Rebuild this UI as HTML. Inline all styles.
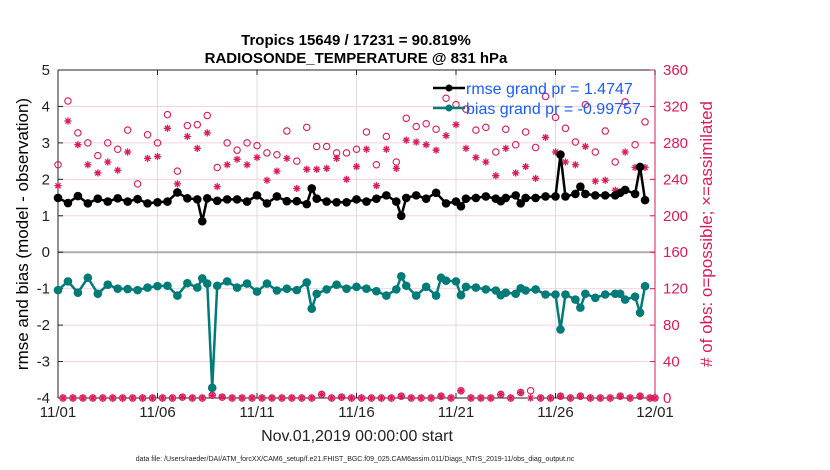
<!DOCTYPE html>
<html><head><meta charset="utf-8"><style>
body{margin:0;background:#fff;}
svg{display:block;font-family:"Liberation Sans",sans-serif;}
</style></head><body>
<svg id="chart" width="830" height="470" viewBox="0 0 830 470">
<g id="grid"></g>
<g id="axes"></g>
<g id="marks"></g>
<text x="356" y="45" text-anchor="middle" font-size="15" font-weight="bold">Tropics 15649 / 17231 = 90.819%</text>
<text x="356" y="63" text-anchor="middle" font-size="15" font-weight="bold">RADIOSONDE_TEMPERATURE @ 831 hPa</text>
<text transform="translate(28,234) rotate(-90)" text-anchor="middle" font-size="17">rmse and bias (model - observation)</text>
<text transform="translate(712,234) rotate(-90)" text-anchor="middle" font-size="17" fill="#dc1a5a"># of obs: o=possible; ×=assimilated</text>
<text x="357" y="441" text-anchor="middle" font-size="16" fill="#222">Nov.01,2019 00:00:00 start</text>
<text x="355" y="461" text-anchor="middle" font-size="7" fill="#222">data file: /Users/raeder/DAI/ATM_forcXX/CAM6_setup/f.e21.FHIST_BGC.f09_025.CAM6assim.011/Diags_NTrS_2019-11/obs_diag_output.nc</text>
<g>
<line x1="433" y1="88" x2="465" y2="88" stroke="#000" stroke-width="2.5"/>
<circle cx="449" cy="88" r="3.5" fill="#000"/>
<text x="466" y="94" font-size="16" fill="#1a5cff">rmse grand pr = 1.4747</text>
<line x1="433" y1="108" x2="465" y2="108" stroke="#007b78" stroke-width="2.5"/>
<circle cx="449" cy="108" r="3.5" fill="#007b78"/>
<text x="466" y="114" font-size="16" fill="#1a5cff">bias grand pr = -0.99757</text>
</g>
</svg>
<script>
const days = [0,0.5,1,1.5,2,2.5,3,3.5,4,4.5,5,5.5,6,6.5,7,7.25,7.5,7.75,8,8.5,9,9.5,10,10.5,11,11.5,12,12.5,12.75,13,13.5,14,14.5,15,15.5,16,16.5,17,17.25,17.5,18,18.5,19,19.25,19.5,20,20.25,20.5,21,21.5,22,22.25,22.5,23,23.25,23.5,24,24.5,25,25.25,25.5,26,26.25,26.5,27,27.5,28,28.25,28.5,29,29.25,29.5];
const rmse = [1.49,1.35,1.54,1.34,1.47,1.39,1.48,1.39,1.46,1.34,1.37,1.39,1.64,1.48,1.45,0.85,1.48,null,1.41,1.45,1.45,1.39,1.56,1.34,1.53,1.40,1.40,1.32,1.75,1.47,1.39,1.37,1.37,1.45,1.39,1.47,1.56,1.39,1.0,1.49,1.56,1.47,1.63,null,1.34,1.39,1.26,1.47,1.49,1.53,1.47,1.40,1.49,1.56,1.34,1.49,1.49,1.53,1.53,2.68,1.53,1.60,1.80,1.60,1.56,1.56,1.56,1.63,1.71,1.60,2.34,1.43];
const bias = [-1.04,-0.80,-1.11,-0.70,-1.14,-0.89,-1.0,-1.01,-1.04,-0.97,-0.93,-0.92,-1.19,-0.85,-0.97,-0.72,-0.86,-3.72,-0.92,-0.80,-0.97,-0.86,-1.08,-0.86,-1.05,-1.0,-1.04,-0.83,-1.55,-1.14,-1.02,-0.89,-1.0,-0.95,-1.0,-1.07,-1.19,-1.02,-0.66,-0.92,-1.19,-0.95,-1.19,-0.70,-0.78,-0.80,-1.18,-0.95,-0.97,-1.02,-1.05,-1.18,-1.11,-1.14,-0.99,-1.05,-1.02,-1.16,-1.16,-2.12,-1.16,-1.30,-1.52,-1.14,-1.25,-1.16,-1.14,-1.14,-1.30,-1.22,-1.66,-0.93];
const obsDays = [0,0.5,1,1.5,2,2.5,3,3.5,4,4.5,5,5.5,6,6.5,7,7.5,8,8.5,9,9.5,10,10.5,11,11.5,12,12.5,13,13.5,14,14.5,15,15.5,16,16.5,17,17.5,18,18.5,19,19.5,20,20.5,21,21.5,22,22.5,23,23.5,24,24.5,25,25.5,26,26.5,27,27.5,28,28.5,29,29.5];
const possible = [256,326,291,280,266,280,273,294,235,289,280,311,249,299,300,310,253,280,272,280,277,269,267,293,260,297,276,276,269,269,273,292,256,287,259,307,298,301,295,329,322,317,294,297,270,295,278,292,275,331,308,296,281,322,270,293,259,325,278,303];
const assimilated = [233,304,278,256,247,259,250,270,217,263,265,296,235,287,274,291,232,256,262,256,264,239,249,263,230,251,251,252,263,240,254,273,233,273,252,283,281,278,272,288,300,274,264,259,244,274,247,254,241,286,270,259,256,276,238,239,228,270,253,253];
const offDays = [0.25,0.75,1.25,1.75,2.25,2.75,3.25,3.75,4.25,4.75,5.25,5.75,6.25,6.75,7.25,7.75,8.25,8.75,9.25,9.75,10.25,10.75,11.25,11.75,12.25,12.75,13.25,13.75,14.25,14.75,15.25,15.75,16.25,16.75,17.25,17.75,18.25,18.75,19.25,19.75,20.25,20.75,21.25,21.75,22.25,22.75,23.25,23.75,24.25,24.75,25.25,25.75,26.25,26.75,27.25,27.75,28.25,28.75,29.25,29.75,30];
const offPossible = [0,0,0,0,0,0,0,0,0,0,0,0,1,0,0,3,1,0,0,0,0,0,0,0,0,0,4,0,1,0,0,0,0,0,2,0,0,0,2,0,8,0,0,0,4,0,6,8,0,0,2,0,2,0,0,0,2,0,2,0,0];
const offAssim = [0,0,0,0,0,0,0,0,0,0,0,0,1,0,0,3,1,0,0,0,0,0,0,0,0,0,4,0,1,0,0,0,0,0,2,0,0,0,2,0,8,0,0,0,4,0,6,0,0,0,2,0,2,0,0,0,2,0,2,0,0];
const leftTicks = [-4,-3,-2,-1,0,1,2,3,4,5];
const rightTicks = [0,40,80,120,160,200,240,280,320,360];
const xTickDays = [0,5,10,15,20,25,30];
const xTickLabels = ['11/01','11/06','11/11','11/16','11/21','11/26','12/01'];

const L=58,R=655,T=70,B=398;
const X=d=>L+(R-L)*d/30;
const Y=v=>B-(B-T)*(v+4)/9;
const Y2=v=>B-(B-T)*v/360;
const NS='http://www.w3.org/2000/svg';
const PINK='#dc1a5a', TEAL='#007b78';
function mk(parent,tag,attrs){const e=document.createElementNS(NS,tag);for(const k in attrs)e.setAttribute(k,attrs[k]);parent.appendChild(e);return e;}
const grid=document.getElementById('grid'), axes=document.getElementById('axes'), marks=document.getElementById('marks');

mk(grid,'rect',{x:L,y:T,width:R-L,height:B-T,fill:'#fff'});
xTickDays.forEach(d=>{const g=mk(grid,'line',{x1:X(d),x2:X(d),y1:T,y2:B,stroke:'#dcdcdc','stroke-width':1});

});
rightTicks.forEach(v=>{const g=mk(grid,'line',{x1:L,x2:R,y1:Y2(v),y2:Y2(v),stroke:'#f6d2df','stroke-width':1});

});
const z=mk(grid,'line',{x1:L,x2:R,y1:Y(0),y2:Y(0),stroke:'#b9a9ae','stroke-width':2});



mk(axes,'line',{x1:L,x2:L,y1:T,y2:B,stroke:'#222','stroke-width':1});
mk(axes,'line',{x1:L,x2:R,y1:T,y2:T,stroke:'#222','stroke-width':1});
mk(axes,'line',{x1:L,x2:R,y1:B,y2:B,stroke:'#222','stroke-width':1});
mk(axes,'line',{x1:R,x2:R,y1:T,y2:B,stroke:PINK,'stroke-width':1});
leftTicks.forEach(v=>{
 mk(axes,'line',{x1:L,x2:L+5,y1:Y(v),y2:Y(v),stroke:'#222'});
 const t=mk(axes,'text',{x:L-8,y:Y(v)+5,'text-anchor':'end','font-size':15,fill:'#222'});t.textContent=v;
 
 
});
rightTicks.forEach(v=>{
 mk(axes,'line',{x1:R-5,x2:R,y1:Y2(v),y2:Y2(v),stroke:PINK});
 const t=mk(axes,'text',{x:R+8,y:Y2(v)+5,'font-size':15,fill:PINK});t.textContent=v;
 
 
});
xTickDays.forEach((d,i)=>{
 mk(axes,'line',{x1:X(d),x2:X(d),y1:B,y2:B-5,stroke:'#222'});
 mk(axes,'line',{x1:X(d),x2:X(d),y1:T,y2:T+5,stroke:'#222'});
 const t=mk(axes,'text',{x:X(d),y:B+19,'text-anchor':'middle','font-size':15,fill:'#222'});t.textContent=xTickLabels[i];
 
 
});

function star(g,cx,cy){const r=3.6;let d='';for(let k=0;k<4;k++){const a=k*Math.PI/4;d+=`M${cx-r*Math.cos(a)},${cy-r*Math.sin(a)}L${cx+r*Math.cos(a)},${cy+r*Math.sin(a)}`;}
 return mk(g,'path',{d:d,stroke:PINK,'stroke-width':1.3,fill:'none'});}

const og=mk(marks,'g',{});


obsDays.forEach((d,i)=>{
 const c=mk(og,'circle',{cx:X(d),cy:Y2(possible[i]),r:3.2,fill:'none',stroke:PINK,'stroke-width':1.1});
 
 
 const s=star(og,X(d),Y2(assimilated[i]));
 
 
});
offDays.forEach((d,i)=>{
 const c=mk(og,'circle',{cx:X(d),cy:Y2(offPossible[i]),r:3.2,fill:'none',stroke:PINK,'stroke-width':1.1});
 
 
 const s=star(og,X(d),Y2(offAssim[i]));
 
 
});

function series(vals,color,name){
 const g=mk(marks,'g',{});
 
 
 const pts=[];days.forEach((d,i)=>{if(vals[i]!==null)pts.push([X(d),Y(vals[i])]);});
 const pl=mk(g,'polyline',{points:pts.map(p=>p.join(',')).join(' '),fill:'none',stroke:color,'stroke-width':2.5,'stroke-linejoin':'round'});
 
 
 pts.forEach(p=>{const c=mk(g,'circle',{cx:p[0],cy:p[1],r:4.3,fill:color});
 
 });
}
series(bias,TEAL,'bias');
series(rmse,'#000','rmse');
</script>
</body></html>
